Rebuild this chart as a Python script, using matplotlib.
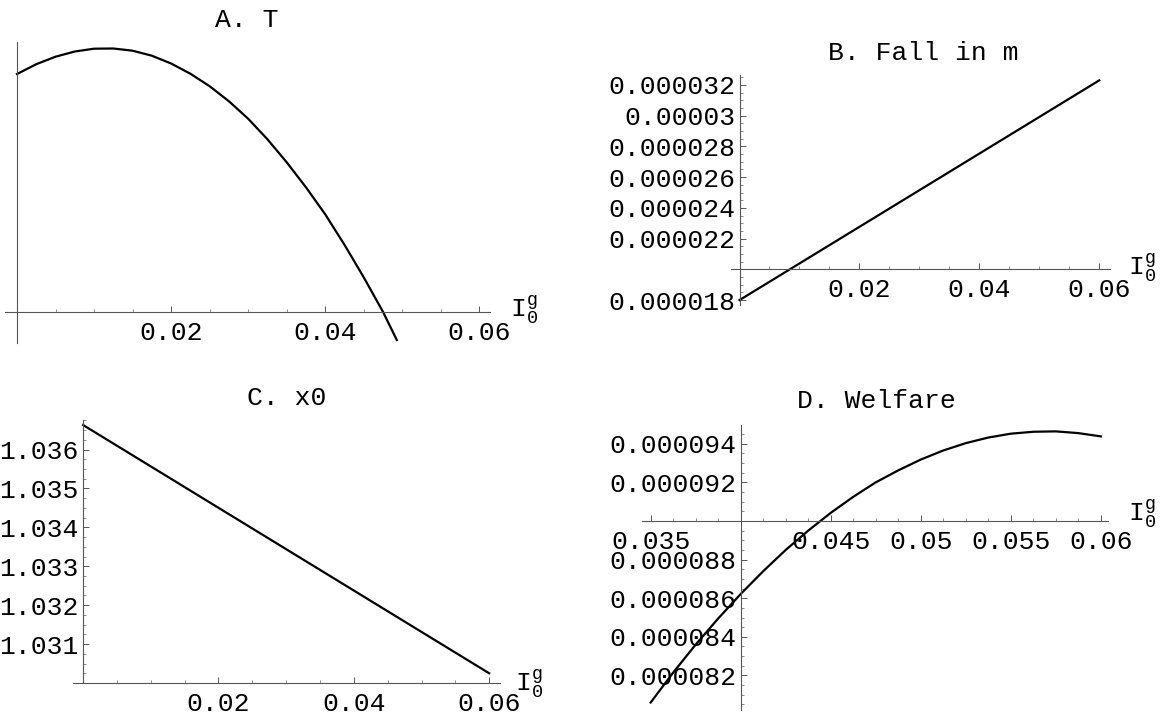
import numpy as np
import matplotlib
matplotlib.use("Agg")
from matplotlib import pyplot as plt
from matplotlib.ticker import AutoMinorLocator

plt.rcParams['font.family'] = ['Liberation Mono', 'DejaVu Sans Mono']
plt.rcParams['mathtext.fontset'] = 'custom'
plt.rcParams['mathtext.rm'] = 'Liberation Mono'
plt.rcParams['mathtext.it'] = 'Liberation Mono'

# A. T (no y labels in the source, values in arbitrary units)
t_x = [0, 0.0025, 0.005, 0.0075, 0.01, 0.0125, 0.015, 0.0175, 0.02, 0.0225, 0.025,
       0.0275, 0.03, 0.0325, 0.035, 0.0375, 0.04, 0.0425, 0.045, 0.0475, 0.0493]
t_y = [237.7, 247.5, 255.0, 260.2, 263.0, 263.2, 261.0, 256.0, 248.2, 238.0, 225.5,
       210.5, 193.0, 172.5, 149.5, 124.5, 97.5, 67.0, 34.5, 0.0, -28.3]

# B. Fall in m
fall_x = [0, 0.06]
fall_y = [0.000018, 0.0000323]

# C. x0
x0_x = [0, 0.06]
x0_y = [1.03663, 1.03025]

# D. Welfare
welfare_x = [0.035, 0.03625, 0.0375, 0.03875, 0.04, 0.04125, 0.0425, 0.04375, 0.045, 0.04625,
             0.0475, 0.04875, 0.05, 0.05125, 0.0525, 0.05375, 0.055, 0.05625, 0.0575, 0.05875, 0.06]
welfare_y = [80.6e-6, 82.15e-6, 83.6e-6, 84.95e-6, 86.22e-6, 87.4e-6, 88.5e-6, 89.5e-6, 90.42e-6,
             91.25e-6, 92.0e-6, 92.62e-6, 93.18e-6, 93.65e-6, 94.03e-6, 94.32e-6, 94.52e-6,
             94.62e-6, 94.64e-6, 94.55e-6, 94.38e-6]

# tick values / labels (empty label where the axes cross)
a_xticks = [0, 0.02, 0.04, 0.06]
a_xlabels = ['', '0.02', '0.04', '0.06']
b_xticks = [0, 0.02, 0.04, 0.06]
b_xlabels = ['', '0.02', '0.04', '0.06']
b_yticks = [0.000018, 0.00002, 0.000022, 0.000024, 0.000026, 0.000028, 0.00003, 0.000032]
b_ylabels = ['0.000018', '', '0.000022', '0.000024', '0.000026', '0.000028', '0.00003', '0.000032']
c_xticks = [0, 0.02, 0.04, 0.06]
c_xlabels = ['', '0.02', '0.04', '0.06']
c_yticks = [1.030, 1.031, 1.032, 1.033, 1.034, 1.035, 1.036]
c_ylabels = ['', '1.031', '1.032', '1.033', '1.034', '1.035', '1.036']
d_xticks = [0.035, 0.04, 0.045, 0.05, 0.055, 0.06]
d_xlabels = ['0.035', '', '0.045', '0.05', '0.055', '0.06']
d_yticks = [0.000082, 0.000084, 0.000086, 0.000088, 0.00009, 0.000092, 0.000094]
d_ylabels = ['0.000082', '0.000084', '0.000086', '0.000088', '', '0.000092', '0.000094']

W, H = 1163, 719
FS = 19
fig = plt.figure(figsize=(W / 100, H / 100), dpi=100)


def px_axes(left, top, right, bottom):
    return fig.add_axes([left / W, 1 - bottom / H, (right - left) / W, (bottom - top) / H])


def style(ax, xcross, ycross, show_y=True):
    for s in ['top', 'right']:
        ax.spines[s].set_visible(False)
    ax.spines['left'].set_position(('data', xcross))
    ax.spines['bottom'].set_position(('data', ycross))
    for s in ['left', 'bottom']:
        ax.spines[s].set_color('#555555')
        ax.spines[s].set_linewidth(0.8)
    ax.patch.set_alpha(0)
    ax.xaxis.set_minor_locator(AutoMinorLocator(4))
    ax.tick_params(axis='x', which='major', direction='in', length=4, width=0.7,
                   color='#555555', labelsize=FS, pad=6.5)
    ax.tick_params(axis='x', which='minor', direction='in', length=2, width=0.6, color='#777777')
    if show_y:
        ax.yaxis.set_minor_locator(AutoMinorLocator(4))
        ax.tick_params(axis='y', which='major', direction='in', length=4, width=0.7,
                       color='#555555', labelsize=FS, pad=3)
        ax.tick_params(axis='y', which='minor', direction='in', length=2, width=0.6, color='#777777')
    else:
        ax.tick_params(axis='y', which='both', left=False, labelleft=False)


def label(x, y, s, **kw):
    fig.text(x / W, 1 - y / H, s, fontsize=FS, **kw)


# A
ax = px_axes(5, 42, 490, 343)
ax.plot(t_x, t_y, color='black', lw=1.6, solid_joinstyle='round')
ax.set_xlim(-0.00156, 0.0614)
ax.set_ylim(-31.3, 269.7)
ax.set_xticks(a_xticks, a_xlabels)
style(ax, 0, 0, show_y=False)
label(247, 20, 'A. T', ha='center', va='center')
label(510, 310, r'$\mathrm{I}_0^{\mathrm{g}}$', ha='left', va='center')

# B
ax = px_axes(731, 75, 1110, 305)
ax.plot(fall_x, fall_y, color='black', lw=1.6)
ax.set_xlim(-0.00142, 0.0618)
ax.set_ylim(0.00001768, 0.00003265)
ax.set_xticks(b_xticks, b_xlabels)
ax.set_yticks(b_yticks, b_ylabels)
style(ax, 0, 0.00002)
label(923, 53, 'B. Fall in m', ha='center', va='center')
label(1128, 268, r'$\mathrm{I}_0^{\mathrm{g}}$', ha='left', va='center')

# C
ax = px_axes(73, 420, 500, 683)
ax.plot(x0_x, x0_y, color='black', lw=1.6)
ax.set_xlim(-0.0015, 0.0616)
ax.set_ylim(1.03, 1.03676)
ax.set_xticks(c_xticks, c_xlabels)
ax.set_yticks(c_yticks, c_ylabels)
style(ax, 0, 1.03)
label(287, 398, 'C. x0', ha='center', va='center')
label(515, 684, r'$\mathrm{I}_0^{\mathrm{g}}$', ha='left', va='center')

# D
ax = px_axes(641.7, 425, 1108, 710)
ax.plot(welfare_x, welfare_y, color='black', lw=1.6, solid_joinstyle='round')
ax.set_xlim(0.0345, 0.0604)
ax.set_ylim(0.00008021, 0.00009497)
ax.set_xticks(d_xticks, d_xlabels)
ax.set_yticks(d_yticks, d_ylabels)
style(ax, 0.04, 0.00009)
label(876, 401, 'D. Welfare', ha='center', va='center')
label(1128, 514, r'$\mathrm{I}_0^{\mathrm{g}}$', ha='left', va='center')

fig.savefig('out.png', dpi=100)
